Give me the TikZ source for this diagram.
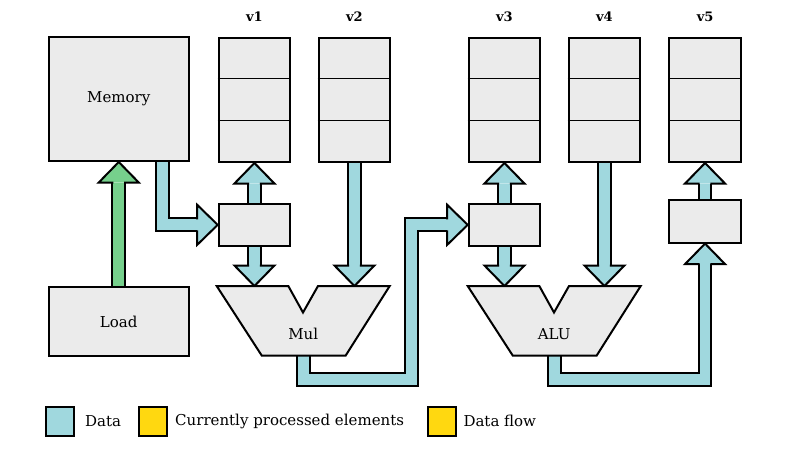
\documentclass[tikz,border=0pt]{standalone}
\usepackage{fontspec}
\setmainfont{DejaVu Serif}
\usetikzlibrary{calc,backgrounds}
\definecolor{datac}{RGB}{160,216,222}
\definecolor{greenc}{RGB}{118,208,140}
\definecolor{yellowc}{RGB}{255,216,16}
\definecolor{boxc}{RGB}{235,235,235}
\def\hw{20}
\def\hl{20.5}
\tikzset{
  txt/.style={font=\fontsize{15}{17}\selectfont},
  box/.style={draw=black, line width=2pt, fill=boxc, inner sep=0pt, anchor=north west, txt},
  regbox/.style={box, minimum width=71.5pt, minimum height=124.3pt},
  smallbox/.style={box, minimum width=71.5pt, minimum height=42.3pt},
  divider/.style={draw=black, line width=1pt},
  reglabel/.style={font=\fontsize{13}{15}\selectfont\bfseries, inner sep=0pt},
  shaft/.style={draw=black, line width=2pt, double=#1, double distance=10.8pt, line join=miter},
  headline/.style={draw=black, line width=2pt, line join=miter},
  unitshape/.style={draw=black, line width=2pt, fill=boxc, line join=miter},
  unitlabel/.style={txt, inner sep=0pt},
  legbox/.style={draw=black, line width=2pt, minimum width=28pt, minimum height=29pt, inner sep=0pt},
  legtext/.style={txt, anchor=west, inner sep=0pt},
  pics/ahead/.style={code={
    \fill[#1] (0,0) -- (-\hw,\hl) -- (\hw,\hl) -- cycle;
    \draw[headline] (-5.4,\hl) -- (-\hw,\hl) -- (0,0) -- (\hw,\hl) -- (5.4,\hl);
  }},
}
\begin{document}
\begin{tikzpicture}[x=1pt,y=-1pt]
\useasboundingbox (0,0) rectangle (800,450);
% memory and load
\node[box, minimum width=140.5pt, minimum height=124.3pt] (mem) at (47.5,35.7) {Memory};
\node[box, minimum width=140.5pt, minimum height=69.5pt] (load) at (47.5,285.7) {Load};
% vector registers
\foreach \n/\x in {v1/217.7, v2/317.7, v3/467.7, v4/567.7, v5/668.3} {
  \node[regbox] (\n) at (\x,36.7) {};
  \draw[divider] ($(\n.north west)!1/3!(\n.south west)$) -- ($(\n.north east)!1/3!(\n.south east)$);
  \draw[divider] ($(\n.north west)!2/3!(\n.south west)$) -- ($(\n.north east)!2/3!(\n.south east)$);
  \node[reglabel] (\n lab) at ($(\n.north)+(0,-20)$) {\n};
}
% small buffers
\node[smallbox] (v1b) at (217.7,202.7) {};
\node[smallbox] (v3b) at (467.7,202.7) {};
\node[smallbox] (v5b) at (668.3,199.3) {};
% functional units
\coordinate (mulTL) at (216.7,286);
\coordinate (aluTL) at (467.7,286);
\foreach \u in {mul,alu}
  \draw[unitshape] (\u TL) -- ++(71.6,0) -- ++(14.7,26.5) -- ++(15,-26.5) -- ++(71.7,0)
    -- ++(-44,69.5) -- ++(-84,0) -- cycle;
\node[unitlabel] (mul) at ($(mulTL)+(86.5,48)$) {Mul};
\node[unitlabel] (alu) at ($(aluTL)+(86.5,48)$) {ALU};
\coordinate (mulout) at ($(mulTL)+(87,69.5)$);
\coordinate (aluout) at ($(aluTL)+(87,69.5)$);
\coordinate (outrow) at (0,379.3);
\coordinate (mulbend) at (411.5,379.3);
\coordinate (alubend) at (v5b.south |- outrow);
\coordinate (memout) at ($(mem.south east)+(-27.8,0)$);
% connectors
\begin{scope}[on background layer]
  % Load -> Memory
  \draw[shaft=greenc] (load.north) -- ($(mem.south)+(0,\hl)$);
  \pic at (mem.south) {ahead=greenc};
  % Memory -> v1 buffer
  \draw[shaft=datac] (memout) |- ($(v1b.west)+(-\hl,0)$);
  \pic[rotate=-90] at (v1b.west) {ahead=datac};
  % v1 buffer -> v1
  \draw[shaft=datac] (v1b.north) -- ($(v1.south)+(0,\hl)$);
  \pic at (v1.south) {ahead=datac};
  % v1 buffer -> Mul
  \draw[shaft=datac] (v1b.south) -- ($(v1b.south |- mulTL)+(0,-\hl)$);
  \pic[rotate=180] at (v1b.south |- mulTL) {ahead=datac};
  % v2 -> Mul
  \draw[shaft=datac] (v2.south) -- ($(v2.south |- mulTL)+(0,-\hl)$);
  \pic[rotate=180] at (v2.south |- mulTL) {ahead=datac};
  % Mul -> v3 buffer
  \draw[shaft=datac] (mulout) |- (mulbend) |- ($(v3b.west)+(-\hl,0)$);
  \pic[rotate=-90] at (v3b.west) {ahead=datac};
  % v3 buffer -> v3
  \draw[shaft=datac] (v3b.north) -- ($(v3.south)+(0,\hl)$);
  \pic at (v3.south) {ahead=datac};
  % v3 buffer -> ALU
  \draw[shaft=datac] (v3b.south) -- ($(v3b.south |- aluTL)+(0,-\hl)$);
  \pic[rotate=180] at (v3b.south |- aluTL) {ahead=datac};
  % v4 -> ALU
  \draw[shaft=datac] (v4.south) -- ($(v4.south |- aluTL)+(0,-\hl)$);
  \pic[rotate=180] at (v4.south |- aluTL) {ahead=datac};
  % ALU -> v5 buffer
  \draw[shaft=datac] (aluout) |- (alubend) -- ($(v5b.south)+(0,\hl)$);
  \pic at (v5b.south) {ahead=datac};
  % v5 buffer -> v5
  \draw[shaft=datac] (v5b.north) -- ($(v5.south)+(0,\hl)$);
  \pic at (v5.south) {ahead=datac};
\end{scope}
% legend
\node[legbox, fill=datac] (lg1) at (60.2,421) {};
\node[legtext] (lt1) at (85,421) {Data};
\node[legbox, fill=yellowc] (lg2) at (152.7,421) {};
\node[legtext] (lt2) at (175,421) {Currently processed elements};
\node[legbox, fill=yellowc] (lg3) at (441.8,421) {};
\node[legtext] (lt3) at (463.3,421) {Data flow};
\end{tikzpicture}
\end{document}
